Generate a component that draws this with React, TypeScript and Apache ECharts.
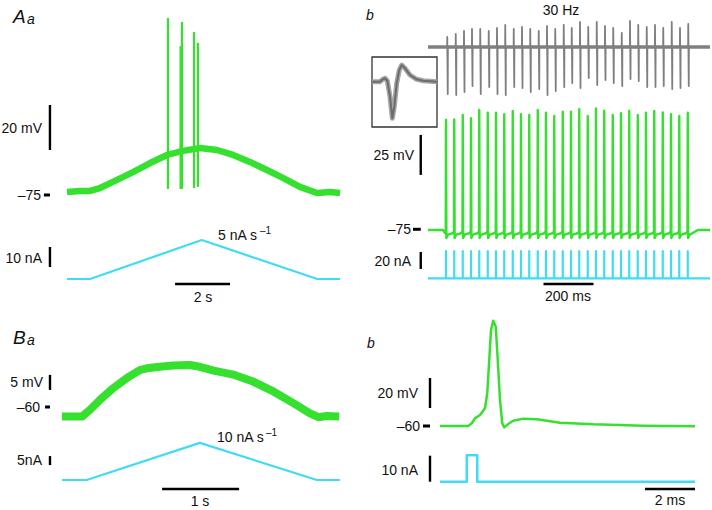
import React, { useEffect, useRef } from "react";
import * as echarts from "echarts";

const GREEN = "#36e02e";
const CYAN = "#3fdcf2";
const GRAY = "#7f7f7f";
const FONT = "'Liberation Sans', Arial, sans-serif";

// ---------- Panel Aa : slow ramp, time (s), Vm (mV), I (nA)
const aaTime = [0, 0.47, 0.84, 1.2, 1.82, 2.4, 3.02, 3.64, 4.22, 4.84, 5.45, 6.04, 6.65, 7.27, 7.85, 8.47, 9.09, 9.56, 9.93];
const aaVm = [-73.7, -73.2, -73.2, -71.9, -68.3, -64.8, -60.8, -57.2, -55.4, -54.1, -55, -57.2, -60.3, -63.9, -67.4, -71.4, -74.1, -73.7, -74.1];
const aaSpikeTime = [3.67, 4.13, 4.18, 4.62, 4.76];
const aaSpikePeak = [3.7, -8.8, 1.9, -2.6, -7.4];
const aaSpikeTrough = [-72.3, -72.3, -72.3, -71.9, -71.4];
const aaRampTime = [0, 0.84, 4.9, 9.1, 9.93];
const aaRampI = [0, 0, 19.5, 0, 0];

// ---------- Panel Ab : 30 Hz train, time (ms)
const abSpikeTime = [72, 105, 139, 172, 205, 239, 272, 305, 339, 372, 405, 439, 472, 505, 539, 572, 605, 639, 672, 705, 739, 772, 805, 839, 872, 905, 939, 972, 1005, 1039];
const abSpikePeak = [-6.7, -6.3, -3.6, -5.6, -0.4, -2.1, -2.1, -3.1, -1.1, -3.1, -3.6, -0.4, -2.1, -4.2, -1.5, -1.5, 0, -4.2, 0.6, -0.9, -3.6, -2.5, -0.9, -3.6, -2.1, -1.1, -1.9, -3.1, -4.2, -2.1];
const abRestMv = -75.4;
const abInterMv = -77.3;
const abAhpMv = -80.4;
const abPulseNa = 32;
const abEndMs = 1128;
// extracellular unit (arbitrary units)
const abUnitTime = [77, 111, 144, 176, 209, 243, 276, 309, 343, 376, 409, 443, 476, 509, 543, 575, 608, 641, 675, 708, 741, 775, 808, 841, 875, 908, 941, 975, 1008, 1041];
const abUnitUp = [10, 13, 16, 18, 18, 16, 19, 22, 18, 20, 18, 16, 21, 18, 22, 19, 25, 20, 25, 21, 19, 14, 26, 22, 20, 22, 19, 25, 19, 23];
const abUnitDown = [-47, -48, -45, -39, -47, -40, -47, -48, -40, -41, -45, -42, -48, -44, -40, -36, -41, -31, -38, -33, -36, -39, -32, -34, -40, -40, -39, -42, -41, -39];
// inset: averaged unit waveform (ms, a.u.)
const insetTime = [0, 0.8, 1.07, 1.3, 1.53, 1.8, 2.03, 2.23, 2.47, 2.73, 2.97, 3.3, 3.8, 4.47, 5.13, 6.5];
const insetAmp = [0.3, 0.3, 2.7, 3.7, 1.3, -14.7, -36.3, -24.7, -1.3, 12, 17, 13.7, 7, 2.7, 1.3, 0.3];

// ---------- Panel Ba : ramp, time (s)
const baTime = [0, 0.26, 0.36, 0.49, 0.66, 0.84, 1.01, 1.1, 1.27, 1.44, 1.66, 1.79, 1.97, 2.24, 2.49, 2.75, 3.01, 3.22, 3.33, 3.44, 3.6];
const baVm = [-63.2, -63.2, -61, -57.7, -53.8, -50.4, -47.7, -47.1, -46.6, -46.2, -46, -46.6, -47.9, -49.3, -51.6, -54.9, -58.8, -62.1, -63.4, -63, -63.2];
const baRampTime = [0, 0.32, 1.79, 3.31, 3.61];
const baRampI = [0, 0, 20.6, 0, 0];

// ---------- Panel Bb : single spike, time (ms)
const bbTime = [0, 1.13, 1.27, 1.4, 1.6, 1.8, 1.89, 1.97, 2.04, 2.13, 2.23, 2.31, 2.4, 2.49, 2.57, 2.73, 2.93, 3.33, 3.87, 4.8, 6.13, 8.13, 10.2];
const bbVm = [-60, -60, -58.2, -54.9, -52.7, -48.2, -38.2, -16, 4, 10.2, 6.2, -16, -42.7, -58.2, -60.9, -58.7, -56.5, -55.1, -55.5, -57.8, -58.9, -59.8, -60.2];
const bbStimTime = [0, 1.07, 1.07, 1.49, 1.49, 10.2];
const bbStimI = [0, 0, 10.2, 10.2, 0, 0];

const zip = (xs: number[], ys: number[]) => xs.map((x, i) => [x, ys[i]]);

function buildOption() {
  const grids: any[] = [];
  const xAxes: any[] = [];
  const yAxes: any[] = [];
  const series: any[] = [];
  const graphics: any[] = [];

  const frame = (left: number, top: number, width: number, height: number, xMin: number, xMax: number, yMin: number, yMax: number, border = false) => {
    const i = grids.length;
    grids.push({ left, top, width, height, show: border, borderColor: "#333", borderWidth: 1.3, backgroundColor: "transparent", containLabel: false });
    xAxes.push({ type: "value", gridIndex: i, min: xMin, max: xMax, show: false, splitLine: { show: false } });
    yAxes.push({ type: "value", gridIndex: i, min: yMin, max: yMax, show: false, splitLine: { show: false } });
    return i;
  };
  const trace = (g: number, data: any[], color: string, width: number, z = 2) => {
    series.push({
      type: "line", xAxisIndex: g, yAxisIndex: g, data, symbol: "none", showSymbol: false,
      lineStyle: { color, width, cap: "butt", join: "round" }, clip: false, silent: true, z,
    });
  };
  const bar = (g: number, data: number[][], width = 2.4) => trace(g, data, "#000", width, 3);
  const label = (x: number, y: number, text: string, align = "right", size = 14, italic = false) => {
    graphics.push({
      type: "text", x, y, silent: true,
      style: { text, fill: "#111", fontSize: size, fontFamily: FONT, fontStyle: italic ? "italic" : "normal", align, verticalAlign: "middle" },
    });
  };

  // ----- Aa  (trace starts at x=67 px, 27.5 px/s)
  const gAaV = frame(40, 15, 300, 186.75, -0.9818, 9.927, -78, 5);
  const gAaI = frame(40, 235, 300, 56, -0.9818, 9.927, -6, 22);
  trace(gAaV, zip(aaTime, aaVm), GREEN, 6.5);
  aaSpikeTime.forEach((t, i) => trace(gAaV, [[t, aaSpikeTrough[i]], [t, aaSpikePeak[i]]], GREEN, 2.2, 3));
  trace(gAaI, zip(aaRampTime, aaRampI), CYAN, 2.2);
  bar(gAaV, [[-0.62, -55], [-0.62, -35]]);
  bar(gAaV, [[-0.84, -75], [-0.62, -75]], 3);
  bar(gAaI, [[-0.62, 6], [-0.62, 16]]);
  bar(gAaI, [[3.93, -2.5], [5.93, -2.5]]);

  // ----- Ab  (trace starts at x=428 px, 0.25 px/ms)
  const gAbU = frame(410, 17, 300, 85, -72, abEndMs, -55, 30);
  const gAbV = frame(410, 99.7, 300, 145.6, -72, abEndMs, -85, 6);
  const gAbI = frame(410, 244.3, 300, 42.5, -72, abEndMs, -10, 40);
  const gIn = frame(372, 57, 65, 70, 0, 6.5, -45, 25, true);

  trace(gAbU, [[0, 0], [abEndMs, 0]], GRAY, 3.5);
  const unit: number[][] = [[0, 0]];
  abUnitTime.forEach((t, i) => unit.push([t - 0.5, 0], [t, abUnitUp[i]], [t + 2, abUnitDown[i]], [t + 2.5, 0]));
  unit.push([abEndMs, 0]);
  trace(gAbU, unit, GRAY, 1.8);

  const last = abSpikeTime[abSpikeTime.length - 1];
  const green: number[][] = [[0, abRestMv], [abSpikeTime[0] - 12, abRestMv]];
  abSpikeTime.forEach((t, i) =>
    green.push([t - 4, abInterMv], [t - 1, abInterMv + 1.5], [t, abSpikePeak[i]], [t + 1.5, abAhpMv], [t + 8, abInterMv - 1]));
  green.push([last + 20, abInterMv], [last + 40, abRestMv], [abEndMs, abRestMv]);
  trace(gAbV, green, GREEN, 2.4);

  const cyan: number[][] = [[0, 0]];
  abSpikeTime.forEach((t) => cyan.push([t, 0], [t, abPulseNa], [t, 0]));
  cyan.push([abEndMs, 0]);
  trace(gAbI, cyan, CYAN, 2.2);

  trace(gIn, zip(insetTime, insetAmp), "#a6a6a6", 5);
  trace(gIn, zip(insetTime, insetAmp), "#6c6c6c", 2);

  bar(gAbV, [[-29, -41], [-29, -16]]);
  bar(gAbV, [[-60, -75], [-29, -75]], 3);
  bar(gAbI, [[-29, 11], [-29, 31]]);
  bar(gAbI, [[462, -6.7], [662, -6.7]]);

  // ----- Ba  (trace starts at x=62 px, 77 px/s)
  const gBaV = frame(40, 353, 300, 72, -0.2857, 3.6104, -66, -42);
  const gBaI = frame(40, 436.8, 300, 57.6, -0.2857, 3.6104, -8, 24);
  trace(gBaV, zip(baTime, baVm), GREEN, 8);
  trace(gBaI, zip(baRampTime, baRampI), CYAN, 2.2);
  bar(gBaV, [[-0.156, -54.3], [-0.156, -49.3]]);
  bar(gBaV, [[-0.22, -60], [-0.156, -60]], 3);
  bar(gBaI, [[-0.156, 8.3], [-0.156, 13.3]]);
  bar(gBaI, [[1.3, -5], [2.3, -5]]);

  // ----- Bb  (trace starts at x=440 px, 25 px/ms)
  const gBbV = frame(420, 312, 275, 123, -0.8, 10.2, -66, 16);
  const gBbI = frame(420, 445.3, 275, 46.8, -0.8, 10.2, -4, 14);
  trace(gBbV, zip(bbTime, bbVm), GREEN, 2.5);
  trace(gBbI, zip(bbStimTime, bbStimI), CYAN, 2.5);
  bar(gBbV, [[-0.4, -48], [-0.4, -28]]);
  bar(gBbV, [[-0.68, -60], [-0.4, -60]], 3);
  bar(gBbI, [[-0.4, 0], [-0.4, 10]]);
  bar(gBbI, [[8.2, -2.8], [10.2, -2.8]]);

  // ----- texts
  label(13, 16.5, "A", "left", 19, true);
  label(27, 18.5, "a", "left", 14, true);
  label(42, 128, "20 mV");
  label(41, 195, "–75");
  label(42, 258, "10 nA");
  label(218, 235, "5 nA s", "left");
  label(260, 230, "–1", "left", 10);
  label(203, 297, "2 s", "center");

  label(366, 15, "b", "left", 14, true);
  label(561, 10, "30 Hz", "center");
  label(414, 155, "25 mV");
  label(411, 229, "–75");
  label(411, 261, "20 nA");
  label(568, 296, "200 ms", "center");

  label(13, 337.5, "B", "left", 19, true);
  label(27, 339.5, "a", "left", 14, true);
  label(43, 382, "5 mV");
  label(40, 407, "–60");
  label(217, 437, "10 nA s", "left");
  label(266, 432, "–1", "left", 10);
  label(42, 460, "5nA");
  label(200, 501, "1 s", "center");

  label(367, 343, "b", "left", 14, true);
  label(418, 393, "20 mV");
  label(420, 426, "–60");
  label(418, 470, "10 nA");
  label(670, 500, "2 ms", "center");

  return {
    animation: false,
    backgroundColor: "#fff",
    grid: grids,
    xAxis: xAxes,
    yAxis: yAxes,
    series,
    graphic: graphics,
  };
}

export default function App() {
  const ref = useRef<HTMLDivElement>(null);
  useEffect(() => {
    document.body.style.margin = "0";
    const chart = echarts.init(ref.current!, null, { renderer: "svg" });
    chart.setOption(buildOption());
    return () => chart.dispose();
  }, []);
  return <div ref={ref} style={{ width: 712, height: 510 }} />;
}
